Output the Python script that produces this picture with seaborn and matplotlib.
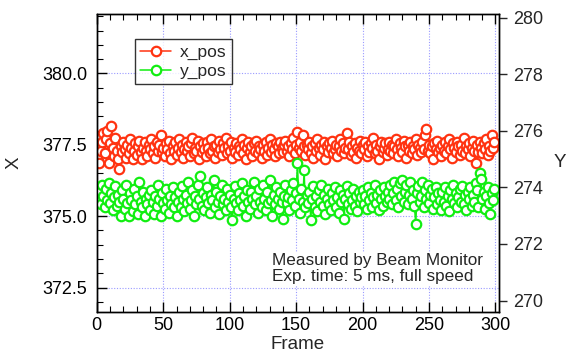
# Posicion del haz medida por el Beam Monitor (x_pos / y_pos por frame)
import numpy as np
import pandas as pd
import matplotlib
matplotlib.use("Agg")
import matplotlib.pyplot as plt
import seaborn as sns
from matplotlib.ticker import MultipleLocator, AutoMinorLocator

x_pos = [
    377.05, 377.45, 376.85, 377.3, 377.6, 377.9, 377.2, 377.7, 378.0, 376.85, 377.55, 378.15, 377.4, 377.1, 377.75, 377.3, 377.0, 376.65, 377.45, 377.25,
    377.6, 377.35, 377.05, 377.5, 377.2, 377.7, 377.4, 377.0, 377.3, 377.55, 377.15, 377.45, 377.65, 377.25, 377.0, 377.4, 377.6, 377.3, 377.1, 377.5,
    377.35, 377.7, 377.2, 377.45, 377.05, 377.6, 377.3, 377.5, 377.85, 377.25, 377.4, 377.1, 377.55, 377.35, 377.65, 377.2, 377.0, 377.45, 377.3, 377.6,
    377.15, 377.4, 377.7, 377.25, 377.5, 377.05, 377.35, 377.6, 377.3, 377.45, 377.1, 377.55, 377.75, 377.2, 377.4, 377.3, 377.65, 377.0, 377.45, 377.25,
    377.55, 377.35, 377.1, 377.6, 377.4, 377.2, 377.7, 377.3, 377.45, 377.05, 377.5, 377.25, 377.65, 377.35, 377.15, 377.55, 377.4, 377.75, 377.2, 377.45,
    377.3, 377.6, 377.05, 377.4, 377.25, 377.55, 377.15, 377.45, 377.35, 377.7, 377.2, 377.5, 377.0, 377.4, 377.6, 377.25, 377.45, 377.1, 377.55, 377.3,
    377.65, 377.2, 377.45, 377.35, 377.05, 377.5, 377.3, 377.6, 377.15, 377.4, 377.7, 377.25, 377.5, 377.35, 377.1, 377.55, 377.45, 377.2, 377.6, 377.4,
    377.25, 377.5, 377.65, 377.3, 377.45, 377.1, 377.55, 377.35, 377.75, 377.2, 377.5, 377.95, 377.4, 377.6, 377.3, 377.85, 377.45, 377.15, 377.5, 377.35,
    377.6, 377.2, 377.45, 377.05, 377.55, 377.3, 377.7, 377.4, 377.15, 377.5, 377.35, 377.6, 377.0, 377.45, 377.25, 377.55, 377.4, 377.65, 377.2, 377.35,
    377.5, 377.1, 377.45, 377.7, 377.3, 377.55, 377.2, 377.4, 377.9, 377.35, 377.6, 377.15, 377.45, 377.25, 377.55, 377.05, 377.4, 377.3, 377.65, 377.2,
    377.5, 377.35, 377.6, 377.1, 377.45, 377.25, 377.55, 377.4, 377.75, 377.2, 377.5, 377.3, 377.0, 377.45, 377.6, 377.25, 377.4, 377.55, 377.15, 377.35,
    377.6, 377.3, 377.5, 377.2, 377.45, 377.7, 377.35, 377.1, 377.55, 377.4, 377.25, 377.65, 377.45, 377.05, 377.5, 377.3, 377.6, 377.2, 377.45, 377.35,
    377.7, 377.15, 377.5, 377.4, 377.25, 377.6, 377.35, 377.85, 378.05, 377.3, 377.5, 377.2, 377.45, 377.0, 377.55, 377.35, 377.65, 377.25, 377.4, 377.1,
    377.5, 377.3, 377.6, 377.2, 377.45, 377.7, 377.35, 377.05, 377.55, 377.4, 377.25, 377.6, 377.45, 377.15, 377.5, 377.3, 377.75, 377.2, 377.45, 377.35,
    377.55, 377.1, 377.4, 377.65, 377.3, 376.85, 377.5, 377.25, 377.6, 377.4, 377.2, 377.55, 377.35, 377.7, 377.15, 377.45, 377.3, 377.85, 377.4, 377.6,
]

y_pos = [
    274.0, 273.6, 273.85, 273.4, 274.1, 273.7, 273.3, 273.95, 273.55, 274.15, 273.45, 273.8, 273.2, 273.65, 274.05, 273.35, 273.75, 273.5, 273.0, 273.9,
    273.6, 273.25, 274.1, 273.45, 273.0, 273.8, 273.55, 273.15, 273.95, 273.4, 273.7, 273.05, 274.2, 273.5, 273.3, 273.85, 273.0, 273.6, 273.4, 273.75,
    273.2, 273.9, 273.5, 273.05, 273.7, 273.35, 274.1, 273.6, 273.0, 273.8, 273.45, 273.25, 273.95, 273.55, 273.1, 273.7, 273.4, 274.0, 273.3, 273.65,
    273.0, 273.5, 273.85, 273.3, 274.05, 273.6, 273.15, 273.75, 273.45, 274.2, 273.25, 273.55, 273.9, 273.0, 273.7, 273.4, 274.1, 273.6, 274.4, 273.35,
    273.8, 273.2, 273.65, 274.0, 273.45, 273.1, 273.75, 273.55, 274.25, 273.3, 273.85, 273.5, 273.05, 273.7, 274.1, 273.4, 273.6, 273.2, 273.95, 273.5,
    273.75, 273.3, 272.85, 273.6, 274.05, 273.45, 273.2, 273.8, 273.55, 274.15, 273.35, 273.7, 273.0, 273.9, 273.5, 273.25, 273.85, 273.6, 274.2, 273.4,
    273.7, 273.1, 273.95, 273.5, 273.3, 274.1, 273.6, 273.2, 273.85, 273.45, 274.25, 273.55, 273.0, 273.75, 273.4, 274.0, 273.6, 273.25, 273.85, 273.5,
    272.9, 273.7, 274.1, 273.45, 273.65, 273.2, 273.9, 273.55, 274.15, 273.35, 273.8, 274.85, 273.6, 273.1, 273.95, 273.5, 274.6, 273.3, 273.75, 273.45,
    273.85, 272.85, 273.6, 274.05, 273.3, 273.7, 273.15, 273.9, 273.5, 274.1, 273.35, 273.75, 273.05, 273.6, 273.95, 273.4, 273.2, 273.8, 273.55, 274.0,
    273.3, 273.65, 273.1, 273.9, 273.5, 273.75, 272.9, 273.6, 274.05, 273.4, 273.8, 273.25, 273.55, 273.95, 273.35, 273.7, 273.15, 273.85, 273.5, 273.65,
    273.9, 273.4, 273.7, 273.25, 274.0, 273.55, 273.8, 273.3, 273.65, 274.1, 273.45, 273.75, 273.2, 273.9, 273.6, 273.35, 274.0, 273.7, 273.5, 273.85,
    273.6, 274.1, 273.4, 273.8, 274.2, 273.55, 273.95, 273.3, 274.15, 273.7, 274.25, 273.5, 273.85, 274.1, 273.4, 273.75, 274.2, 273.6, 273.9, 273.35,
    272.7, 273.8, 274.05, 273.5, 273.7, 274.2, 273.3, 273.9, 273.6, 274.1, 273.45, 273.75, 273.95, 273.25, 273.65, 274.0, 273.4, 273.8, 273.55, 273.2,
    273.85, 273.5, 274.0, 273.35, 273.7, 273.15, 273.9, 273.6, 274.1, 273.45, 273.8, 273.3, 273.65, 273.95, 273.5, 274.05, 273.4, 273.75, 273.2, 273.85,
    273.6, 274.0, 273.35, 273.75, 273.5, 274.15, 273.9, 273.3, 274.5, 274.3, 273.6, 273.85, 273.25, 273.7, 274.0, 273.45, 273.05, 273.8, 273.55, 273.95,
]

frames = np.arange(len(x_pos))
df = pd.DataFrame({"Frame": frames, "x_pos": x_pos, "y_pos": y_pos})

red = "#ff3311"
green = "#11ee11"

sns.set_style("ticks")
plt.rcParams["font.family"] = ["Liberation Sans", "DejaVu Sans"]

fig, ax = plt.subplots(figsize=(5.76, 3.56), dpi=100)
fig.subplots_adjust(left=0.168, right=0.866, top=0.962, bottom=0.124)
ax2 = ax.twinx()

# Serie X en el eje izquierdo, serie Y en el eje derecho
sns.lineplot(data=df, x="Frame", y="x_pos", ax=ax, color=red, marker="o", markersize=6.8,
             markerfacecolor="white", markeredgecolor=red, markeredgewidth=1.6,
             linewidth=1.1, estimator=None, sort=False, label="x_pos", legend=False)
sns.lineplot(data=df, x="Frame", y="y_pos", ax=ax2, color=green, marker="o", markersize=6.8,
             markerfacecolor="white", markeredgecolor=green, markeredgewidth=1.6,
             linewidth=1.1, estimator=None, sort=False, label="y_pos", legend=False)

ax.set_xlim(0, 302.5)
ax.set_ylim(371.65, 382.1)
ax2.set_ylim(269.6, 280.15)

ax.xaxis.set_major_locator(MultipleLocator(50))
ax.xaxis.set_minor_locator(MultipleLocator(10))
ax.yaxis.set_major_locator(MultipleLocator(2.5))
ax.yaxis.set_minor_locator(AutoMinorLocator(5))
ax.yaxis.set_major_formatter(matplotlib.ticker.FormatStrFormatter("%.1f"))
ax2.yaxis.set_major_locator(MultipleLocator(2))

ax.grid(True, which="major", color="#9a9aff", linestyle=(0, (1, 1.5)), linewidth=0.8)
ax.set_axisbelow(True)

ax.tick_params(axis="both", which="both", direction="in", top=True, labelsize=13, colors="black")
ax.tick_params(axis="y", pad=7)
ax.tick_params(which="major", length=7, width=1)
ax.tick_params(which="minor", length=4, width=0.8)
ax2.tick_params(axis="y", direction="out", length=6, width=1, labelsize=13, pad=4)

ax.set_xlabel("Frame", fontsize=13.5, labelpad=2)
ax.set_ylabel("X", fontsize=13.5, labelpad=14)
ax2.set_ylabel("Y", fontsize=13.5, rotation=0, labelpad=12, va="center")

for a in (ax, ax2):
    for s in a.spines.values():
        s.set_linewidth(1)
        s.set_color("black")
        s.set_visible(True)

h1, l1 = ax.get_legend_handles_labels()
h2, l2 = ax2.get_legend_handles_labels()
leg = ax2.legend(h1 + h2, l1 + l2, loc="upper left", bbox_to_anchor=(0.095, 0.913),
                 borderaxespad=0, fontsize=12.5, frameon=True, fancybox=False,
                 edgecolor="black", handlelength=1.8, borderpad=0.3, labelspacing=0.2,
                 handletextpad=0.5)
leg.get_frame().set_linewidth(1)

ax2.text(0.435, 0.197, "Measured by Beam Monitor\nExp. time: 5 ms, full speed",
         transform=ax.transAxes, fontsize=12.3, va="top", ha="left", linespacing=1.05,
         bbox=dict(facecolor="white", edgecolor="none", pad=1))

fig.savefig("out.png", dpi=100)
